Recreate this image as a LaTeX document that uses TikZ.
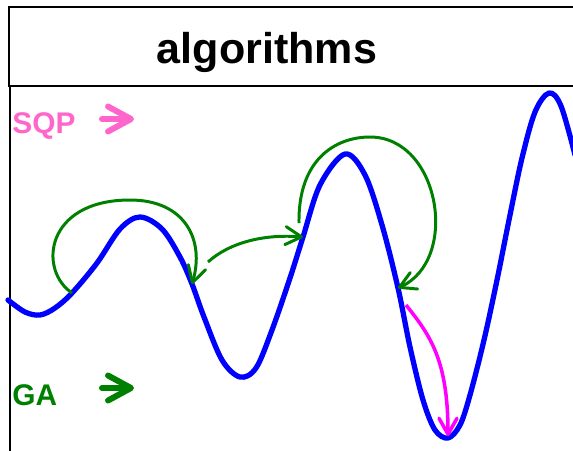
\documentclass[tikz,border=0pt]{standalone}
\usepackage{fontspec}
\setmainfont{Liberation Sans}
\usetikzlibrary{arrows.meta}
\definecolor{sqppink}{RGB}{255,102,204}
\definecolor{gagreen}{RGB}{0,128,0}
\definecolor{slidemag}{RGB}{255,0,255}
\definecolor{fblue}{RGB}{0,0,255}

\begin{document}
\begin{tikzpicture}[
  x=0.02cm, y=-0.02cm,
  frame/.style={line width=1.1pt},
  curve/.style={fblue, line width=3pt, line join=round, line cap=round},
  jump/.style={gagreen, line width=1.7pt,
               -{Straight Barb[length=3.2mm, width=3.6mm, round]}},
  slide/.style={slidemag, line width=2pt,
                -{Straight Barb[length=3.2mm, width=3.6mm, round]}},
  legarr/.style={line width=3.4pt, line cap=round,
                 -{Straight Barb[length=4.6mm, width=5mm, round]}},
  leg/.style={font=\bfseries\fontsize{17}{20}\selectfont, anchor=base west,
              inner sep=0pt}
]
  \clip (0,0) rectangle (573,450);
  % title
  \node[draw, frame, anchor=north west, inner sep=0pt, minimum width=12.4cm,
        minimum height=1.58cm] (box) at (8,6) {};
  \node[font=\bfseries\fontsize{24.5}{29}\selectfont, anchor=base] (title)
       at (267,63) {algorithms};
  \draw[frame] (10,85) -- (10,452);

  % legend
  \foreach \lab/\col/\ty/\ay in {SQP/sqppink/133/119, GA/gagreen/405/388} {
    \node[leg, \col] (\lab) at (12,\ty) {\lab};
    \coordinate (\lab a) at (102,\ay);
    \coordinate (\lab b) at (134,\ay);
    \draw[legarr, \col] (\lab a) -- (\lab b);
  }

  % the function
  \draw[curve] plot[smooth, tension=0.55] coordinates {
    (8,300) (25,312) (40,315) (55,308) (72,293) (97,263) (120,229)
    (140,217) (162,229) (180,257) (192,284) (204,317) (222,360) (240,377)
    (256,368) (272,330) (290,278) (303,237) (320,185) (345,154) (365,175)
    (382,225) (398,288) (410,347) (423,400) (435,430) (448,438) (460,425)
    (470,395) (484,340) (497,280) (510,215) (522,158) (535,112) (549,93)
    (561,106) (575,155)};

  % points on it
  \coordinate (a1) at (72,293);
  \coordinate (b1) at (192,284);
  \coordinate (a2) at (208,262);
  \coordinate (b2) at (303,237);
  \coordinate (a3) at (299,223);
  \coordinate (b3) at (398,288);
  \coordinate (m1) at (406,305);
  \coordinate (m2) at (448,436);

  % GA jumps
  \draw[jump] (a1) .. controls (38,270) and (45,200) .. (130,200)
                   .. controls (185,200) and (205,240) .. (b1);
  \draw[jump] (a2) .. controls (230,242) and (265,234) .. (b2);
  \draw[jump] (a3) .. controls (298,160) and (335,137) .. (370,137)
                   .. controls (440,137) and (460,260) .. (b3);
  % SQP descent
  \draw[slide] (m1) .. controls (430,335) and (448,360) .. (m2);
\end{tikzpicture}
\end{document}
